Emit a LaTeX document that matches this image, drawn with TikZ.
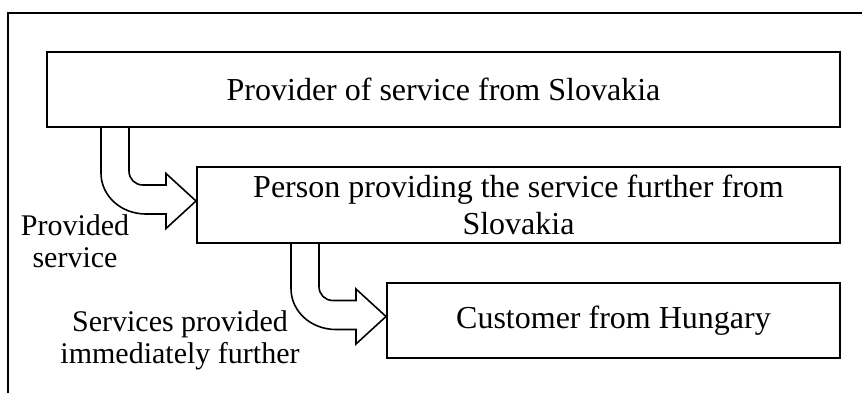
\documentclass[tikz,border=0pt]{standalone}
\usepackage{fontspec}
\setmainfont{Liberation Serif}
\usetikzlibrary{calc}

% block arrow from the bottom of #1 into the left side of #2
\newcommand{\servicearrow}[2]{%
  \draw[flowarrow] let \p1=($(#2.west)+(0,4)$), \p2=(#1.south) in
    (\x1-47.5pt,\y2) -- (\x1-47.5pt,\y1+14pt)
    .. controls (\x1-47.5pt,\y1+2.5pt) and (\x1-37.5pt,\y1-6.5pt) .. (\x1-25pt,\y1-6.5pt)
    -- (\x1-15pt,\y1-6.5pt) -- (\x1-15pt,\y1-13.75pt) -- (\x1,\y1)
    -- (\x1-15pt,\y1+13.75pt) -- (\x1-15pt,\y1+8pt) -- (\x1-26.5pt,\y1+8pt)
    .. controls (\x1-30.5pt,\y1+8pt) and (\x1-33.5pt,\y1+11pt) .. (\x1-33.5pt,\y1+15pt)
    -- (\x1-33.5pt,\y2);}

\begin{document}
\begin{tikzpicture}[
        x=0.5pt, y=0.5pt,
        box/.style={draw, line width=1pt, inner sep=0pt, align=center,
                    minimum height=37.5pt, font=\fontsize{16}{18.5}\selectfont},
        label/.style={inner sep=0pt, align=center, font=\fontsize{15}{16}\selectfont},
        flowarrow/.style={line width=0.8pt, line join=miter}
    ]
    \useasboundingbox (0,0) rectangle (862,393);

    % Frame
    \draw[line width=1pt] (8,0) -- (8,380) -- (862,380);

    % Nodes
    \node[box, minimum width=396.5pt] (provider) at (443.5,303.5)
        {Provider of service from Slovakia};

    \node[box, minimum width=321.5pt, minimum height=38pt, anchor=north east]
        (person) at ([yshift=-19pt]provider.south east)
        {Person providing the service further from\\ Slovakia};

    \node[box, minimum width=226.5pt, anchor=north east]
        (customer) at ([yshift=-19pt]person.south east)
        {Customer from Hungary};

    \node[label, anchor=base] (provided) at (75,126) {Provided\\ service};
    \node[label, anchor=base] (further) at (180,30) {Services provided\\ immediately further};

    % Edges
    \servicearrow{provider}{person}
    \servicearrow{person}{customer}

\end{tikzpicture}
\end{document}
